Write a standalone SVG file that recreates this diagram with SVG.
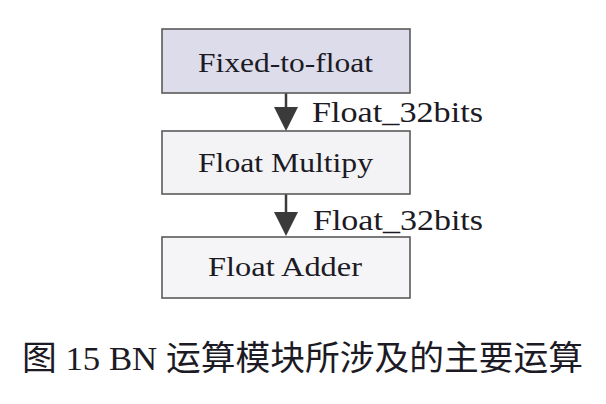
<svg xmlns="http://www.w3.org/2000/svg" width="606" height="404" viewBox="0 0 606 404">
<style>
.box{stroke:#5a5a5a;stroke-width:1.6}
.t{font-family:"Liberation Serif","Times New Roman",serif;font-size:27px;fill:#1c1a24}
.lbl{font-family:"Liberation Serif","Times New Roman",serif;font-size:29px;fill:#1c1a24}
.cap{font-family:"Liberation Serif","Noto Sans CJK SC",serif;font-size:34px;fill:#1c1a24}
.ln{stroke:#3a3a3a;stroke-width:2.5;fill:none}
</style>
<defs>
<marker id="ah" viewBox="0 0 24 24" refX="12" refY="24" markerWidth="24" markerHeight="24" markerUnits="userSpaceOnUse" orient="auto">
<path d="M0,0 L24,12 L0,24 Z" fill="#3a3a3a"/>
</marker>
</defs>
<rect width="606" height="404" fill="#ffffff"/>
<g id="connectors">
<path class="ln" d="M286,93 L286,108" />
<path d="M274,107 L298,107 L286,131 Z" fill="#3a3a3a"/>
<path class="ln" d="M286,194 L286,213" />
<path d="M274,212 L298,212 L286,236 Z" fill="#3a3a3a"/>
<text class="lbl" x="312" y="122" textLength="171" lengthAdjust="spacingAndGlyphs">Float_32bits</text>
<text class="lbl" x="313" y="230" textLength="170" lengthAdjust="spacingAndGlyphs">Float_32bits</text>
</g>
<g id="node-fixed-to-float">
<rect class="box" x="162" y="29" width="248" height="64" fill="#dcdcea"/>
<text class="t" x="198" y="72" textLength="175" lengthAdjust="spacingAndGlyphs">Fixed-to-float</text>
</g>
<g id="node-float-multipy">
<rect class="box" x="162" y="131" width="248" height="63" fill="#f3f3f6"/>
<text class="t" x="198" y="172" textLength="175" lengthAdjust="spacingAndGlyphs">Float Multipy</text>
</g>
<g id="node-float-adder">
<rect class="box" x="162" y="237" width="248" height="61" fill="#f5f5f8"/>
<text class="t" x="208" y="276" textLength="154" lengthAdjust="spacingAndGlyphs">Float Adder</text>
</g>
<g id="caption">
<text class="cap" x="22" y="370" textLength="561" lengthAdjust="spacingAndGlyphs">图 15 BN 运算模块所涉及的主要运算</text>
</g>
</svg>
